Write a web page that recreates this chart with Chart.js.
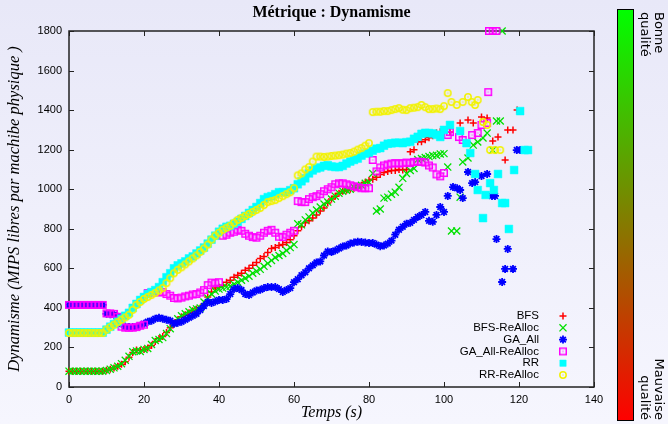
<!DOCTYPE html>
<html>
<head>
<meta charset="utf-8">
<script src="https://cdn.jsdelivr.net/npm/chart.js@4.4.0/dist/chart.umd.min.js"></script>
<style>
  body { margin: 0; background: linear-gradient(#e8e8f8, #f6f6fe); }
  #graphe { display: block; }
</style>
</head>
<body>
<canvas id="graphe" width="668" height="424"></canvas>
<script>
// secondes 0..100, un point par seconde
var secondes = [0,1,2,3,4,5,6,7,8,9,10,11,12,13,14,15,16,17,18,19,20,21,22,23,24,25,26,27,28,29,
  30,31,32,33,34,35,36,37,38,39,40,41,42,43,44,45,46,47,48,49,50,51,52,53,54,55,56,57,58,59,
  60,61,62,63,64,65,66,67,68,69,70,71,72,73,74,75,76,77,78,79,80,81,82,83,84,85,86,87,88,89,
  90,91,92,93,94,95,96,97,98,99,100];

var bfs = [80,80,80,80,80,80,80,80,80,80,
  85,90,96,105,115,128,150,175,187,185,
  190,197,210,230,245,255,275,300,320,340,
  355,365,375,385,395,400,420,455,480,500,
  505,515,530,540,555,565,575,590,600,615,
  630,650,660,680,700,705,715,720,730,745,
  765,790,810,830,840,855,870,890,905,930,
  950,965,980,990,995,1000,1005,1010,1020,1035,
  1045,1050,1060,1075,1085,1090,1095,1095,1100,1097,
  1100,1190,1200,1240,1240,1250,1260,1270,1285,1290,
  1290];
var bfsReAlloc = [80,80,80,80,80,80,80,80,80,80,
  83,90,97,105,118,135,155,178,182,180,
  190,195,215,235,240,250,270,295,325,345,
  360,370,380,390,395,400,430,450,470,485,
  495,500,505,510,520,530,540,550,560,575,
  585,595,610,625,640,655,665,675,690,705,
  720,825,820,845,860,880,895,910,925,935,
  950,965,980,990,995,1000,1010,1015,1020,1030,
  1035,1080,890,900,955,960,975,985,1010,1055,
  1080,1095,1105,1150,1155,1160,1165,1170,1172,1178,
  1180];
var gaAll = [415,415,415,415,415,415,415,415,415,415,
  370,368,365,355,320,305,303,303,305,310,
  320,330,335,345,350,345,340,335,320,325,
  330,340,350,360,370,389,410,430,425,432,
  440,440,445,470,495,500,490,470,465,478,
  488,492,500,505,505,505,495,480,490,500,
  530,545,565,580,600,615,630,635,665,685,
  683,690,700,710,715,725,730,735,733,730,
  728,728,720,712,715,725,740,770,795,810,
  825,830,845,860,870,885,840,835,870,910,
  885];
var gaAllReAlloc = [415,415,415,415,415,415,415,415,415,415,
  372,372,370,355,305,300,300,300,303,310,
  315,475,478,480,478,480,470,462,450,448,
  452,458,462,468,470,478,490,515,528,525,
  530,765,770,780,785,795,790,775,765,758,
  755,765,780,790,795,780,760,758,770,780,
  790,940,935,935,950,960,965,975,990,1000,
  1010,1025,1030,1030,1025,1020,1015,1010,1005,1005,
  1005,1148,1090,1110,1120,1125,1130,1132,1130,1132,
  1135,1132,1138,1140,1138,1135,1120,1110,1075,1065,
  1082];
var rr = [275,275,275,275,275,275,275,275,275,275,
  290,305,318,330,345,360,375,400,420,440,
  455,470,480,490,505,530,555,575,600,615,
  625,635,650,660,675,690,705,725,745,765,
  785,800,810,815,825,835,850,865,880,895,
  910,930,950,960,965,975,985,985,985,995,
  1005,1025,1040,1055,1080,1095,1105,1110,1118,1122,
  1115,1112,1112,1118,1130,1140,1148,1155,1170,1180,
  1185,1195,1205,1208,1220,1230,1232,1235,1235,1233,
  1238,1240,1255,1265,1280,1285,1284,1282,1275,1264,
  1300];
var rrReAlloc = [273,273,273,273,273,273,273,273,273,273,
  290,303,315,328,340,352,365,390,415,430,
  445,455,465,475,488,500,525,550,575,592,
  605,620,635,650,665,683,700,720,745,765,
  780,795,805,815,830,845,855,865,875,885,
  895,905,920,935,940,945,955,965,975,985,
  1005,1070,1080,1100,1112,1140,1165,1165,1163,1165,
  1168,1170,1172,1175,1180,1183,1190,1200,1208,1220,
  1233,1390,1392,1392,1395,1395,1400,1405,1410,1402,
  1400,1410,1412,1415,1426,1415,1405,1405,1408,1405,
  1420];

// fin des simulations : points dispersés
var bfsFinT = [101.6,104.3,106.4,107.8,110,111.5,113,114.4,116.3,117,118.4,119.5];
var bfsFinV = [1289,1335,1350,1335,1365,1360,1244,1264,1148,1299,1299,1400];
var bfsReAllocFinT = [101,102,103.4,104.3,105,106.4,107.8,109,110.4,111.5,113,114,115,115.5];
var bfsReAllocFinV = [1112,789,789,960,1138,1158,1223,1239,1259,1284,1198,1345,1345,1800];
var gaAllFinT = [101,102.4,103.5,104.3,105,106.4,107.5,108.3,110,111.5,112.8,113.6,114,115.5,116.3,117,118.4,119.4,120.3];
var gaAllFinV = [966,1011,1005,996,955,1087,1031,1036,1067,1077,966,966,748,531,597,698,597,1198,1198];
var gaAllReAllocFinT = [101,101.6,104,105,107.5,109,110,111.5,111.8,112,113,114];
var gaAllReAllocFinV = [1274,1289,1264,1249,1274,1284,1325,1335,1491,1800,1800,1800];
var rrFinT = [101.6,104.3,106,107,108.3,109,110.4,111.1,112.3,113.3,114.4,115.5,116.3,117.3,118.7,120.3,121.5,122.4];
var rrFinV = [1325,1294,1233,1183,1077,996,854,971,1031,996,1077,930,930,799,1097,1395,1198,1198];
var rrReAllocFinT = [101,102,103.4,105,106.4,107.4,108.3,109,110.4,111.5,112.3,113.6,115];
var rrReAllocFinV = [1486,1441,1426,1441,1466,1441,1426,1451,1340,1325,1198,1198,1198];

var xTicks = [0, 20, 40, 60, 80, 100, 120, 140];
var yTicks = [0, 200, 400, 600, 800, 1000, 1200, 1400, 1600, 1800];

function points(valeurs, finT, finV) {
  var pts = valeurs.map(function (v, i) { return { x: secondes[i], y: v }; });
  finT.forEach(function (t, i) { pts.push({ x: t, y: finV[i] }); });
  return pts;
}

// marqueurs façon gnuplot (carré et cercle avec point central)
function marqueur(dessin) {
  var c = document.createElement("canvas");
  c.width = 10; c.height = 10;
  dessin(c.getContext("2d"));
  return c;
}
var carreVide = marqueur(function (g) {
  g.strokeStyle = "#ff00ff"; g.lineWidth = 1.5;
  g.strokeRect(1.75, 1.75, 6.5, 6.5);
  g.fillStyle = "#ff00ff"; g.fillRect(4.5, 4.5, 1, 1);
});
var cercleVide = marqueur(function (g) {
  g.strokeStyle = "#f2f200"; g.lineWidth = 1.5;
  g.beginPath(); g.arc(5, 5, 3.2, 0, Math.PI * 2); g.stroke();
  g.fillStyle = "#dddd00"; g.fillRect(4.5, 4.5, 1, 1);
});

var series = [
  { label: "BFS", data: points(bfs, bfsFinT, bfsFinV), pointStyle: "cross", pointRadius: 3.5,
    borderColor: "#ff0000", backgroundColor: "#ff0000", pointBorderWidth: 1.5, order: 5 },
  { label: "BFS-ReAlloc", data: points(bfsReAlloc, bfsReAllocFinT, bfsReAllocFinV), pointStyle: "crossRot", pointRadius: 5,
    borderColor: "#00e000", backgroundColor: "#00e000", pointBorderWidth: 1.3, order: 4 },
  { label: "GA_All", data: points(gaAll, gaAllFinT, gaAllFinV), pointStyle: "star", pointRadius: 4,
    borderColor: "#0000ff", backgroundColor: "#0000ff", pointBorderWidth: 1.8, order: 3 },
  { label: "GA_All-ReAlloc", data: points(gaAllReAlloc, gaAllReAllocFinT, gaAllReAllocFinV), pointStyle: carreVide, pointRadius: 4,
    borderColor: "#ff00ff", backgroundColor: "#ff00ff", pointBorderWidth: 1.5, order: 2 },
  { label: "RR", data: points(rr, rrFinT, rrFinV), pointStyle: "rect", pointRadius: 5.5,
    borderColor: "#00ffff", backgroundColor: "#00ffff", pointBorderWidth: 0.5, order: 1 },
  { label: "RR-ReAlloc", data: points(rrReAlloc, rrReAllocFinT, rrReAllocFinV), pointStyle: cercleVide, pointRadius: 4,
    borderColor: "#f2f200", backgroundColor: "#f2f200", pointBorderWidth: 1.5, order: 0 }
];
series.forEach(function (s) { s.showLine = false; s.clip = false; s.pointHoverRadius = s.pointRadius; });

var cadre = {
  id: "cadre",
  beforeDatasetsDraw: function (chart) {
    var ctx = chart.ctx, a = chart.chartArea;
    var sx = chart.scales.x, sy = chart.scales.y;
    ctx.save();
    ctx.strokeStyle = "#222";
    ctx.lineWidth = 1;
    ctx.beginPath();
    xTicks.forEach(function (t) {
      var px = Math.round(sx.getPixelForValue(t)) + 0.5;
      ctx.moveTo(px, a.bottom); ctx.lineTo(px, a.bottom - 5);
      ctx.moveTo(px, a.top); ctx.lineTo(px, a.top + 5);
    });
    yTicks.forEach(function (t) {
      var py = Math.round(sy.getPixelForValue(t)) + 0.5;
      ctx.moveTo(a.left, py); ctx.lineTo(a.left + 5, py);
      ctx.moveTo(a.right, py); ctx.lineTo(a.right - 5, py);
    });
    ctx.stroke();
    ctx.lineWidth = 1.5;
    ctx.strokeRect(a.left, a.top, a.right - a.left, a.bottom - a.top);
    ctx.restore();
  },
  afterDraw: function (chart) {
    var ctx = chart.ctx;
    ctx.save();
    // titre
    ctx.fillStyle = "#000";
    ctx.font = "bold 16px 'Liberation Serif', serif";
    ctx.textAlign = "center";
    ctx.textBaseline = "middle";
    ctx.fillText("Métrique : Dynamisme", (chart.chartArea.left + chart.chartArea.right) / 2, 13);

    // légende
    ctx.font = "11.5px 'Liberation Sans', Arial, sans-serif";
    ctx.textAlign = "right";
    chart.data.datasets.forEach(function (ds, i) {
      var y = 316 + i * 11.8;
      ctx.fillStyle = "#000";
      ctx.fillText(ds.label, 539, y);
      ctx.fillStyle = ds.backgroundColor;
      ctx.strokeStyle = ds.borderColor;
      ctx.lineWidth = ds.pointBorderWidth;
      var r = ds.pointStyle === "rect" ? 4.5 : ds.pointRadius;
      Chart.helpers.drawPoint(ctx, { pointStyle: ds.pointStyle, radius: r, borderWidth: ds.pointBorderWidth, rotation: 0 }, 563, y);
    });

    // barre de qualité
    var grad = ctx.createLinearGradient(0, 9, 0, 421);
    grad.addColorStop(0, "#00ff00");
    grad.addColorStop(1, "#ff0000");
    ctx.fillStyle = grad;
    ctx.fillRect(617, 9, 17, 412);
    ctx.strokeStyle = "#000";
    ctx.lineWidth = 1;
    ctx.strokeRect(617.5, 9.5, 16, 411);

    ctx.fillStyle = "#000";
    ctx.font = "13px 'DejaVu Sans', sans-serif";
    ctx.textBaseline = "middle";
    ctx.save();
    ctx.translate(651, 12);
    ctx.rotate(Math.PI / 2);
    ctx.textAlign = "left";
    ctx.fillText("Bonne", 0, -7);
    ctx.fillText("qualité", 0, 7);
    ctx.restore();
    ctx.save();
    ctx.translate(651, 420);
    ctx.rotate(Math.PI / 2);
    ctx.textAlign = "right";
    ctx.fillText("Mauvaise", 0, -7);
    ctx.fillText("qualité", 0, 7);
    ctx.restore();
    ctx.restore();
  }
};

var graphe = new Chart(document.getElementById("graphe"), {
  type: "scatter",
  data: { datasets: series },
  options: {
    responsive: false,
    animation: false,
    events: [],
    layout: { padding: { top: 31, right: 74, left: 0, bottom: 0 } },
    plugins: {
      legend: { display: false },
      tooltip: { enabled: false },
      title: { display: false }
    },
    scales: {
      x: {
        type: "linear",
        min: 0,
        max: 140,
        afterBuildTicks: function (axis) { axis.ticks = xTicks.map(function (v) { return { value: v }; }); },
        afterFit: function (axis) { axis.height = 37; },
        grid: { display: false, drawTicks: false },
        border: { display: false },
        ticks: {
          padding: 6, color: "#000",
          font: { family: "'Liberation Sans', Arial, sans-serif", size: 11 },
          callback: function (v) { return String(v); }
        },
        title: {
          display: true,
          text: "Temps (s)",
          color: "#000",
          padding: { bottom: 2 },
          font: { family: "'Liberation Serif', serif", style: "italic", size: 16 }
        }
      },
      y: {
        type: "linear",
        min: 0,
        max: 1800,
        afterBuildTicks: function (axis) { axis.ticks = yTicks.map(function (v) { return { value: v }; }); },
        afterFit: function (axis) { axis.width = 69; },
        grid: { display: false, drawTicks: false },
        border: { display: false },
        ticks: {
          padding: 7, color: "#000",
          font: { family: "'Liberation Sans', Arial, sans-serif", size: 11 },
          callback: function (v) { return String(v); }
        },
        title: {
          display: true,
          text: "Dynamisme (MIPS libres par machibe physique )",
          color: "#000",
          padding: { top: 5 },
          font: { family: "'Liberation Serif', serif", style: "italic", size: 16.5 }
        }
      }
    }
  },
  plugins: [cadre]
});
</script>
</body>
</html>
